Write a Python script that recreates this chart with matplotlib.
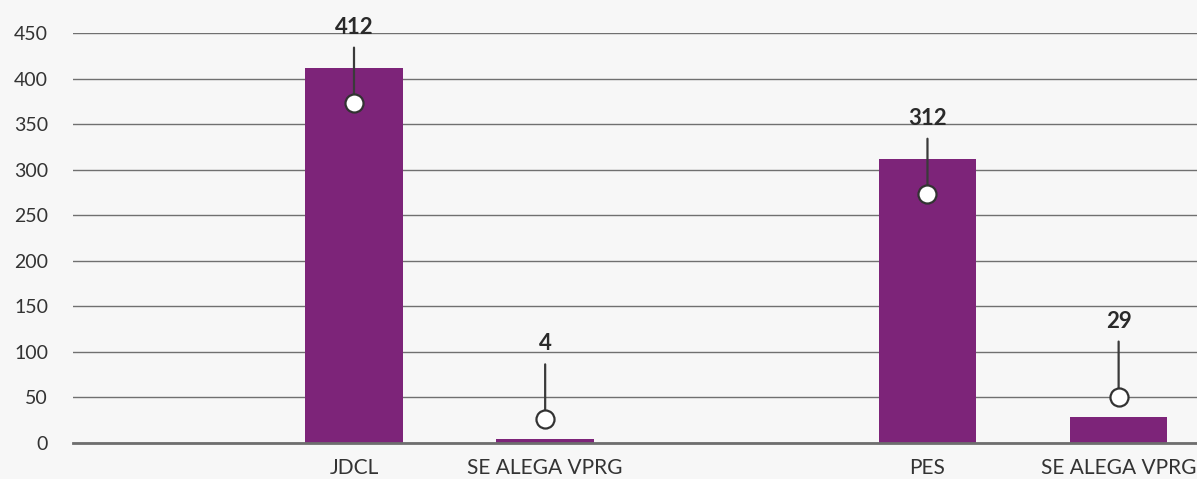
import matplotlib
matplotlib.use("Agg")
import matplotlib.pyplot as plt
from matplotlib.transforms import offset_copy

# data
categories = ["", "JDCL", "SE ALEGA VPRG", "", "PES", "SE ALEGA VPRG"]
values = [None, 412, 4, None, 312, 29]
yticks = [0, 50, 100, 150, 200, 250, 300, 350, 400, 450]

plt.rcParams['font.family'] = ['Lato', 'DejaVu Sans']

bar_color = '#7d2479'
bg = '#f7f7f7'
PT = 72 / 100  # points per pixel

fig = plt.figure(figsize=(11.97, 4.79), dpi=100, facecolor=bg)
ax = fig.add_axes([73 / 1197, 36 / 479, 1 - 73 / 1197, 410 / 479])
ax.set_facecolor('none')

xs = list(range(len(categories)))
for x, v in zip(xs, values):
    if v is None:
        continue
    ax.bar(x, v, width=0.51, color=bar_color, zorder=2)

    # callout: circle on/above the bar, stem and bold label
    off = -35 if v > 100 else 20
    tr = offset_copy(ax.transData, fig=fig, x=0, y=off * PT, units='points')
    ax.annotate('', xy=(x, v), xycoords=tr, xytext=(0, 55 * PT), textcoords='offset points',
                arrowprops=dict(arrowstyle='-', color='#3a3a3a', lw=1.6, shrinkA=0, shrinkB=0),
                zorder=4)
    ax.plot([x], [v], 'o', transform=tr, ms=13, mfc='white', mec='#333333', mew=1.6,
            zorder=5, clip_on=False)
    ax.annotate(str(v), xy=(x, v), xycoords=tr, xytext=(0, 69 * PT), textcoords='offset points',
                ha='center', va='baseline', fontsize=16, fontweight='bold', color='#2a2a2a',
                annotation_clip=False, zorder=6)

ax.set_xlim(-0.47, 5.41)
ax.set_ylim(0, 450)
ax.set_yticks(yticks)
ax.set_xticks(xs)
ax.set_xticklabels(categories)
ax.grid(axis='y', color='#707070', lw=1.0, zorder=0)
ax.set_axisbelow(True)
ax.tick_params(axis='both', length=0, colors='#333333')
ax.tick_params(axis='y', pad=18, labelsize=14)
ax.tick_params(axis='x', pad=11, labelsize=15)
for s in ['top', 'right', 'left']:
    ax.spines[s].set_visible(False)
ax.spines['bottom'].set_color('#6e6e6e')
ax.spines['bottom'].set_linewidth(2)

fig.savefig('out.png', dpi=100, facecolor=bg)
